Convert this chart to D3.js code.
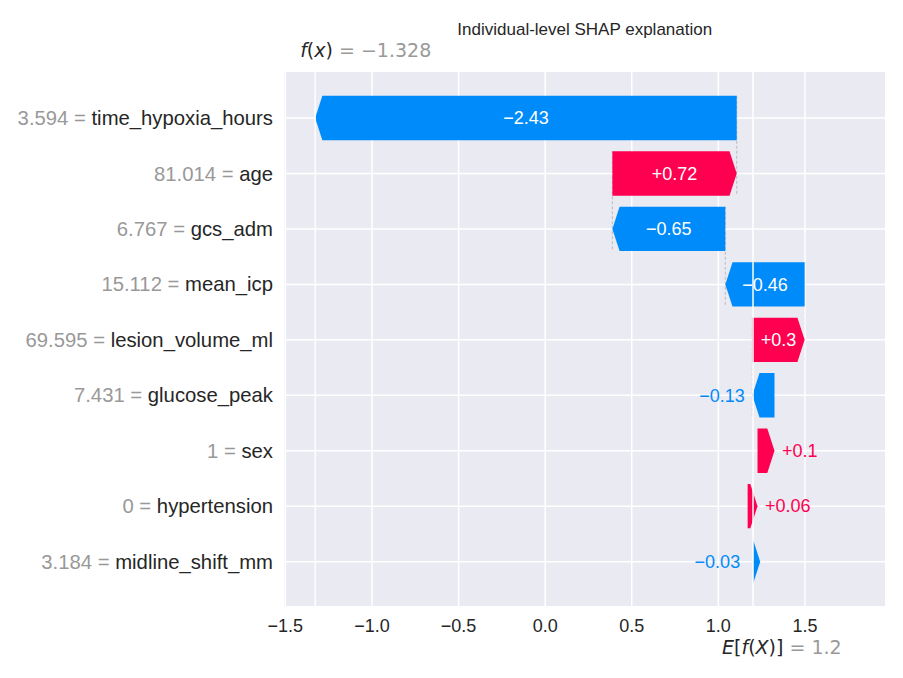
<!DOCTYPE html>
<html>
<head>
<meta charset="utf-8">
<script src="https://cdn.jsdelivr.net/npm/d3@7"></script>
<style>
  body { margin: 0; background: #fff; }
  text { font-family: "Liberation Sans", Arial, sans-serif; }
  .math { font-family: "DejaVu Sans", sans-serif; }
</style>
</head>
<body>
<svg id="chart" width="903" height="678"></svg>
<script>
// Features, ordered top to bottom
const features = ["time_hypoxia_hours", "age", "gcs_adm", "mean_icp", "lesion_volume_ml",
                  "glucose_peak", "sex", "hypertension", "midline_shift_mm"];
const featureValues = ["3.594", "81.014", "6.767", "15.112", "69.595", "7.431", "1", "0", "3.184"];
const shapValues = [-2.434, 0.718, -0.652, -0.458, 0.302, -0.128, 0.098, 0.057, -0.031];
const baseValue = 1.2;
const xTicks = [-1.5, -1.0, -0.5, 0.0, 0.5, 1.0, 1.5];
const title = "Individual-level SHAP explanation";

const RED = "#ff0051", BLUE = "#008bfb", GREY = "#999999", INK = "#262626";

const svg = d3.select("#chart");
const plot = { left: 284.5, right: 885, top: 72, bottom: 606 };

// f(x) is the base value plus every contribution
const fx = baseValue + d3.sum(shapValues);

// Strip trailing zeros like shap's format_value
function formatValue(v, fmt) {
  let s = d3.format(fmt)(v);
  if (s.indexOf(".") >= 0) s = s.replace(/0+$/, "").replace(/\.$/, "");
  return s;
}

// Waterfall goes bottom-up from the base value
let cum = baseValue;
const rows = features.map((f, i) => ({ name: f, value: featureValues[i], shap: shapValues[i], idx: i }));
for (let i = rows.length - 1; i >= 0; i--) {
  rows[i].start = cum;
  cum += rows[i].shap;
  rows[i].end = cum;
}

const x = d3.scaleLinear().domain([-1.505, 1.962]).range([plot.left, plot.right]);
const y = d3.scaleLinear().domain([-0.83, 8.8]).range([plot.top, plot.bottom]);
const rowH = y(1) - y(0);
const barH = 0.8 * rowH;
const headLen = 7.2;

// Background
svg.append("rect")
  .attr("x", plot.left).attr("y", plot.top)
  .attr("width", plot.right - plot.left).attr("height", plot.bottom - plot.top)
  .attr("fill", "#eaeaf2");

// Dashed connectors (below the grid), shap only draws them for the upper rows
svg.append("g").selectAll("line").data(rows.filter(d => d.idx + 4 < rows.length)).join("line")
  .attr("x1", d => x(d.start)).attr("x2", d => x(d.start))
  .attr("y1", d => y(d.idx) - barH / 2).attr("y2", d => y(d.idx + 1) + barH / 2)
  .attr("stroke", "#bbbbbb").attr("stroke-width", 1).attr("stroke-dasharray", "3,2");

// Grid
const grid = svg.append("g").attr("stroke", "#fff").attr("stroke-width", 1.5);
grid.selectAll("line.v").data(xTicks).join("line")
  .attr("x1", d => x(d)).attr("x2", d => x(d))
  .attr("y1", plot.top).attr("y2", plot.bottom);
grid.selectAll("line.h").data(rows).join("line")
  .attr("x1", plot.left).attr("x2", plot.right)
  .attr("y1", d => y(d.idx)).attr("y2", d => y(d.idx));

// Arrow shaped bar, as matplotlib's FancyArrow
function arrowPath(d) {
  const x0 = x(d.start), x1 = x(d.end), yc = y(d.idx), h = barH / 2;
  const dir = x1 >= x0 ? 1 : -1;
  const len = Math.abs(x1 - x0);
  if (len < headLen) {
    // tiny bars collapse to a single head
    const tip = dir > 0 ? x1 : x0 + headLen;
    return `M${x0},${yc - h}L${tip},${yc}L${x0},${yc + h}Z`;
  }
  const xs = x1 - dir * headLen;
  return `M${x0},${yc - h}L${xs},${yc - h}L${x1},${yc}L${xs},${yc + h}L${x0},${yc + h}Z`;
}

svg.append("g").selectAll("path").data(rows).join("path")
  .attr("d", arrowPath)
  .attr("fill", d => d.shap >= 0 ? RED : BLUE);

// Twin-axis lines at E[f(X)] and f(x) sit on top of the bars
svg.append("g").selectAll("line").data([baseValue, fx]).join("line")
  .attr("x1", d => x(d)).attr("x2", d => x(d))
  .attr("y1", plot.top).attr("y2", plot.bottom)
  .attr("stroke", "#fff").attr("stroke-width", 1.5);

// Bar labels: inside in white when they fit, otherwise after the tip
const labels = svg.append("g").selectAll("text").data(rows).join("text")
  .attr("font-size", 18)
  .attr("dy", "0.35em")
  .attr("y", d => y(d.idx))
  .text(d => formatValue(d.shap, "+.2f"));
labels.each(function(d) {
  const t = d3.select(this);
  const w = this.getComputedTextLength();
  const barW = Math.abs(x(d.end) - x(d.start));
  if (w < barW) {
    t.attr("x", (x(d.start) + x(d.end)) / 2).attr("text-anchor", "middle").attr("fill", "#fff");
  } else if (d.shap >= 0) {
    t.attr("x", x(d.end) + 7.5).attr("text-anchor", "start").attr("fill", RED);
  } else {
    t.attr("x", x(d.end) - 7.5).attr("text-anchor", "end").attr("fill", BLUE);
  }
});

// Y labels: value in grey, name in dark
const yl = svg.append("g").selectAll("text").data(rows).join("text")
  .attr("x", plot.left - 11.5)
  .attr("y", d => y(d.idx))
  .attr("dy", "0.35em")
  .attr("text-anchor", "end")
  .attr("font-size", 20.3);
yl.append("tspan").attr("fill", GREY).text(d => d.value + " = ");
yl.append("tspan").attr("fill", INK).text(d => d.name);

// X tick labels
svg.append("g").selectAll("text").data(xTicks).join("text")
  .attr("x", d => x(d)).attr("y", 632)
  .attr("text-anchor", "middle")
  .attr("font-size", 18).attr("fill", INK)
  .text(d => d3.format(".1f")(d));

// Title
svg.append("text")
  .attr("x", (plot.left + plot.right) / 2).attr("y", 35)
  .attr("text-anchor", "middle").attr("font-size", 17).attr("fill", INK)
  .text(title);

// f(x) label above the plot
const fxLabel = svg.append("text").attr("class", "math")
  .attr("x", x(fx) - 15).attr("y", 57).attr("font-size", 19);
fxLabel.append("tspan").attr("fill", INK).attr("font-style", "italic").text("f");
fxLabel.append("tspan").attr("fill", INK).text("(");
fxLabel.append("tspan").attr("fill", INK).attr("font-style", "italic").text("x");
fxLabel.append("tspan").attr("fill", INK).text(")");
fxLabel.append("tspan").attr("fill", GREY).text(" = " + formatValue(fx, ".3f"));

// E[f(X)] label below the axis
const eLabel = svg.append("text").attr("class", "math")
  .attr("x", x(baseValue) - 31).attr("y", 654).attr("font-size", 19);
eLabel.append("tspan").attr("fill", INK).attr("font-style", "italic").text("E");
eLabel.append("tspan").attr("fill", INK).text("[");
eLabel.append("tspan").attr("fill", INK).attr("font-style", "italic").text("f");
eLabel.append("tspan").attr("fill", INK).text("(");
eLabel.append("tspan").attr("fill", INK).attr("font-style", "italic").text("X");
eLabel.append("tspan").attr("fill", INK).text(")]");
eLabel.append("tspan").attr("fill", GREY).text(" = " + formatValue(baseValue, ".3f"));
</script>
</body>
</html>
